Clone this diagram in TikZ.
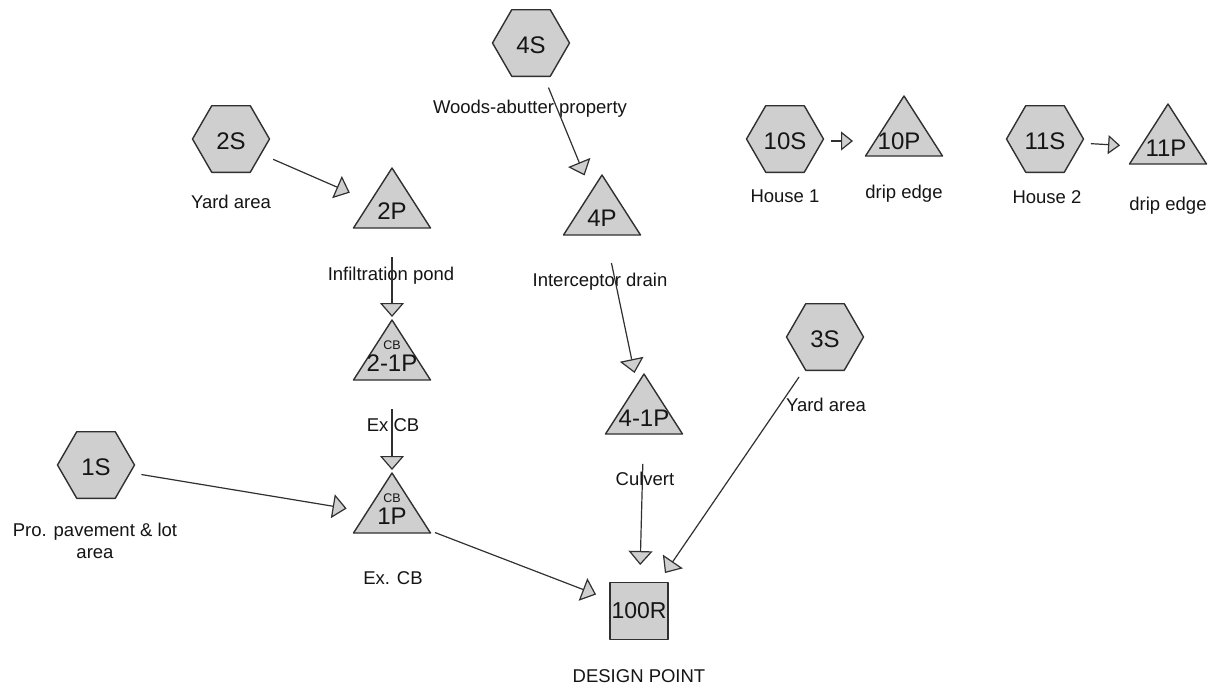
\documentclass[tikz,border=0pt]{standalone}
\usepackage{fontspec}
\setmainfont{Liberation Sans}
\usetikzlibrary{arrows.meta}
\definecolor{fillc}{HTML}{CFCFCF}
\definecolor{edgec}{HTML}{303030}
\definecolor{txtc}{HTML}{151515}
\tikzset{
  shapeline/.style={draw=edgec, fill=fillc, line width=1.4pt, line join=round},
  pics/hexa/.style={code={\path[shapeline] (-38.5,0)--(-19.25,-33.3)--(19.25,-33.3)--(38.5,0)--(19.25,33.3)--(-19.25,33.3)--cycle;}},
  pics/tria/.style={code={\path[shapeline] (0,-40)--(38.5,20)--(-38.5,20)--cycle;}},
  idlbl/.style={inner sep=0pt, text=txtc, font=\fontsize{24}{28}\selectfont},
  cblbl/.style={inner sep=0pt, text=txtc, font=\fontsize{12.5}{14}\selectfont},
  desc/.style={inner sep=0pt, anchor=base, text=txtc, font=\fontsize{18.5}{22}\selectfont},
  reach/.style={shapeline, minimum width=58pt, minimum height=57pt, inner sep=0pt, text=txtc, font=\fontsize{23}{26}\selectfont},
  link/.style={draw=edgec, line width=1.2pt, shorten <=46pt, shorten >=46pt,
    -{Triangle[length=14pt,width=24pt,fill=fillc,line width=1.2pt]}},
  smalllink/.style={link, -{Triangle[length=12pt,width=19pt,fill=fillc,line width=1.2pt]}},
}
\begin{document}
\begin{tikzpicture}[x=1pt,y=-1pt]
\useasboundingbox[fill=white] (0,0) rectangle (1212,689);

% subcatchments (hexagons)
\pic at (231,139) {hexa}; \node[idlbl] (n2S) at (231,141) {2S};
\pic at (531,43) {hexa};  \node[idlbl] (n4S) at (531,45) {4S};
\pic at (785,139) {hexa}; \node[idlbl] (n10S) at (785,141) {10S};
\pic at (1045,139) {hexa}; \node[idlbl] (n11S) at (1045,141) {11S};
\pic at (96,465) {hexa};  \node[idlbl] (n1S) at (96,467) {1S};
\pic at (825,337) {hexa}; \node[idlbl] (n3S) at (825,339) {3S};

% ponds (triangles)
\pic at (392,208) {tria}; \node[idlbl] (n2P) at (392,211) {2P};
\pic at (602,215) {tria}; \node[idlbl] (n4P) at (602,218) {4P};
\pic at (392,360) {tria}; \node[cblbl] (cb21) at (392,345) {CB};
  \node[idlbl] (n21P) at (392,363) {2-1P};
\pic at (644,414) {tria}; \node[idlbl] (n41P) at (644,418) {4-1P};
\pic at (392,513) {tria}; \node[cblbl] (cb1) at (392,498) {CB};
  \node[idlbl] (n1P) at (392,516) {1P};
\pic at (904,136) {tria}; \node[idlbl] (n10P) at (899,141) {10P};
\pic at (1168,144) {tria}; \node[idlbl] (n11P) at (1166,148) {11P};

% reach (square)
\node[reach] (n100R) at (639,611) {100R};

% descriptions
\node[desc] (d2S) at (231,208) {Yard area};
\node[desc] (d4S) at (530,113) {Woods-abutter property};
\node[desc] (d2P) at (391,280) {Infiltration pond};
\node[desc] (d4P) at (600,286) {Interceptor drain};
\node[desc] (d21P) at (393,431) {Ex CB};
\node[desc] (d41P) at (645,485) {Culvert};
\node[inner sep=0pt, text=txtc, align=center, font=\fontsize{18.5}{22}\selectfont] (d1S) at (95,540.5) {Pro. pavement \& lot\\area};
\node[desc] (d1P) at (393,584) {Ex. CB};
\node[desc] (d100R) at (639,682) {DESIGN POINT};
\node[desc] (d10S) at (785,202) {House 1};
\node[desc] (d10P) at (904,198) {drip edge};
\node[desc] (d11S) at (1047,203) {House 2};
\node[desc] (d11P) at (1168,210) {drip edge};
\node[desc] (d3S) at (826,411) {Yard area};

% links
\draw[link] (n2S.center) -- (n2P.center);
\draw[link] (n4S.center) -- (n4P.center);
\draw[link] (n4P.center) -- (n41P.center);
\draw[link] (n2P.center) -- (n21P.center);
\draw[link] (n21P.center) -- (n1P.center);
\draw[link] (n1S.center) -- (n1P.center);
\draw[link] (n1P.center) -- (n100R.center);
\draw[link] (n41P.center) -- (n100R.center);
\draw[link] (n3S.center) -- (n100R.center);
\draw[smalllink] (n10S.center) -- (n10P.center);
\draw[smalllink] (n11S.center) -- (n11P.center);
\end{tikzpicture}
\end{document}
